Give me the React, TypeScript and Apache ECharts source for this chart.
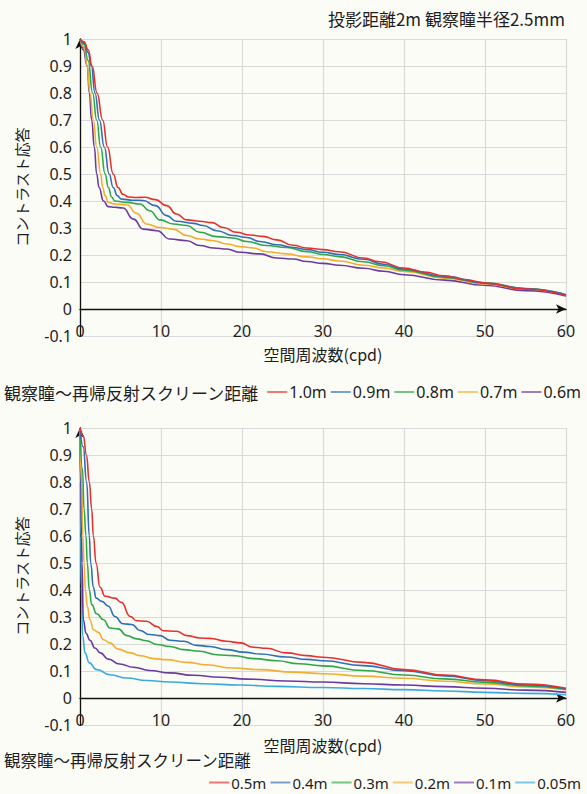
import React, { useEffect, useRef } from "react";
import * as echarts from "echarts";

// ---- Top chart data (投影距離2m 観察瞳半径2.5mm) ----
const topNames = ["1.0m", "0.9m", "0.8m", "0.7m", "0.6m"];
const topColors = ["#e5302e", "#2f6fb5", "#2ea64a", "#f2ae30", "#6b3aa0"];

const t10X = [0, 0.5, 1, 1.5, 2.1, 2.8, 3.4, 4.1, 4.7, 5.3, 6, 7, 8, 9.3, 10.7, 11.9, 13.2, 14.8, 16.3, 17.7, 19.3, 21, 22.6, 24.3, 26.3, 28, 30, 32, 35, 37, 40, 42.5, 45, 47.5, 50, 55, 60];
const t10Y = [1, 0.99, 0.96, 0.9, 0.8, 0.7, 0.6, 0.5, 0.45, 0.425, 0.415, 0.413, 0.414, 0.405, 0.383, 0.352, 0.33, 0.325, 0.32, 0.302, 0.284, 0.274, 0.269, 0.256, 0.236, 0.226, 0.22, 0.212, 0.189, 0.175, 0.152, 0.137, 0.123, 0.109, 0.096, 0.074, 0.05];

const t09X = [0, 0.5, 1, 1.4, 1.85, 2.4, 3.0, 3.6, 4.1, 4.6, 5.1, 6.5, 7.8, 9.3, 10.7, 11.9, 14, 15.2, 16.9, 18.9, 20.6, 22.2, 24.3, 26.3, 28, 30, 32, 35, 37.5, 40, 45, 50, 55, 60];
const t09Y = [1, 0.985, 0.95, 0.9, 0.8, 0.7, 0.6, 0.5, 0.45, 0.42, 0.407, 0.403, 0.402, 0.383, 0.346, 0.325, 0.317, 0.309, 0.29, 0.272, 0.265, 0.25, 0.238, 0.228, 0.22, 0.21, 0.202, 0.184, 0.166, 0.148, 0.121, 0.096, 0.075, 0.052];

const t08X = [0, 0.5, 1, 1.56, 2.06, 2.55, 3.1, 3.5, 3.9, 4.3, 5.8, 7.4, 8.6, 9.9, 11.5, 13.2, 14.8, 16.9, 18.9, 20.6, 23, 25.5, 28, 30, 32, 35, 37.5, 40, 45, 50, 55, 60];
const t08Y = [1, 0.98, 0.92, 0.8, 0.7, 0.6, 0.5, 0.45, 0.415, 0.4, 0.395, 0.389, 0.364, 0.33, 0.315, 0.309, 0.284, 0.268, 0.263, 0.25, 0.235, 0.228, 0.212, 0.202, 0.194, 0.175, 0.16, 0.144, 0.117, 0.097, 0.076, 0.053];

const t07X = [0, 0.5, 0.9, 1.23, 1.65, 2.06, 2.55, 2.8, 3.1, 3.5, 4.3, 5.8, 7, 8.2, 9.9, 11.5, 13.2, 14.8, 16.5, 18.1, 19.8, 21.4, 23, 25.5, 28, 30, 32, 35, 37.5, 40, 45, 50, 55, 60];
const t07Y = [1, 0.97, 0.9, 0.8, 0.7, 0.6, 0.5, 0.45, 0.42, 0.395, 0.389, 0.386, 0.354, 0.315, 0.302, 0.296, 0.272, 0.259, 0.253, 0.241, 0.231, 0.226, 0.212, 0.204, 0.193, 0.186, 0.178, 0.162, 0.152, 0.139, 0.114, 0.093, 0.073, 0.052];

const t06X = [0, 0.4, 0.9, 1.15, 1.44, 1.77, 2.06, 2.35, 2.9, 3.5, 4.3, 5.3, 6.6, 7.8, 9.5, 11.1, 13.2, 14.8, 16.5, 18.1, 19.8, 22.2, 24.3, 26.3, 28, 30, 32, 35, 37.5, 40, 45, 50, 55, 60];
const t06Y = [1, 0.96, 0.9, 0.8, 0.7, 0.6, 0.5, 0.45, 0.4, 0.379, 0.377, 0.374, 0.333, 0.296, 0.29, 0.259, 0.253, 0.235, 0.226, 0.222, 0.21, 0.204, 0.189, 0.185, 0.176, 0.169, 0.162, 0.151, 0.14, 0.127, 0.107, 0.088, 0.068, 0.048];

// ---- Bottom chart data ----
const botNames = ["0.5m", "0.4m", "0.3m", "0.2m", "0.1m", "0.05m"];
const botColors = ["#e5302e", "#2f6fb5", "#2ea64a", "#f2ae30", "#6b3aa0", "#3aa9e0"];

const b05X = [0, 0.4, 0.8, 1.15, 1.44, 1.65, 1.98, 2.47, 3.1, 4.3, 5.1, 6.2, 7, 8.2, 9.5, 10.3, 11.9, 13.2, 14.8, 16, 18.1, 19.8, 21.4, 23, 25.5, 28, 30, 35, 40, 45, 50, 55, 60];
const b05Y = [1, 0.97, 0.9, 0.8, 0.7, 0.6, 0.5, 0.41, 0.377, 0.37, 0.354, 0.302, 0.286, 0.284, 0.265, 0.249, 0.247, 0.231, 0.222, 0.221, 0.21, 0.204, 0.188, 0.184, 0.167, 0.157, 0.151, 0.132, 0.105, 0.085, 0.067, 0.052, 0.036];

const b04X = [0, 0.4, 0.82, 1.15, 1.32, 1.65, 1.98, 2.7, 3.5, 4.3, 5.3, 6.4, 7.4, 8.6, 9.9, 11.1, 12.8, 14.4, 16, 18.1, 20.2, 22.2, 25.5, 28, 30, 35, 40, 45, 50, 55, 60];
const b04Y = [1, 0.93, 0.8, 0.6, 0.5, 0.41, 0.37, 0.358, 0.34, 0.302, 0.275, 0.272, 0.25, 0.235, 0.231, 0.214, 0.21, 0.195, 0.191, 0.179, 0.17, 0.163, 0.152, 0.143, 0.138, 0.12, 0.101, 0.082, 0.064, 0.048, 0.033];

const b03X = [0, 0.3, 0.5, 0.74, 0.9, 1.15, 1.44, 2.06, 2.9, 3.7, 4.7, 5.8, 7, 8.2, 9.5, 11.1, 12.8, 14.8, 16.9, 18.9, 21.4, 24.3, 27, 30, 35, 40, 45, 50, 55, 60];
const b03Y = [1, 0.85, 0.7, 0.6, 0.5, 0.4, 0.346, 0.312, 0.29, 0.259, 0.256, 0.231, 0.219, 0.212, 0.198, 0.191, 0.179, 0.173, 0.16, 0.157, 0.146, 0.138, 0.127, 0.119, 0.102, 0.085, 0.071, 0.058, 0.045, 0.033];

const b02X = [0, 0.2, 0.35, 0.5, 0.66, 0.9, 1.23, 1.65, 2.26, 2.9, 3.7, 4.7, 6.2, 7.4, 9.1, 10.7, 13.2, 15.6, 18.9, 22.2, 26.3, 30, 35, 40, 45, 50, 55, 60];
const b02Y = [1, 0.8, 0.6, 0.5, 0.4, 0.34, 0.29, 0.253, 0.243, 0.216, 0.204, 0.181, 0.167, 0.157, 0.146, 0.142, 0.132, 0.123, 0.111, 0.105, 0.096, 0.09, 0.081, 0.073, 0.062, 0.052, 0.041, 0.031];

const b01X = [0, 0.1, 0.2, 0.25, 0.41, 0.74, 1.23, 1.85, 2.5, 3.5, 4.9, 6.6, 8.6, 11.1, 14, 17.3, 20.6, 25.5, 30, 35, 40, 45, 50, 55, 60];
const b01Y = [1, 0.8, 0.6, 0.5, 0.29, 0.24, 0.214, 0.185, 0.167, 0.144, 0.126, 0.114, 0.102, 0.093, 0.084, 0.077, 0.07, 0.063, 0.059, 0.053, 0.048, 0.042, 0.036, 0.029, 0.021];

const b005X = [0, 0.05, 0.1, 0.16, 0.33, 0.62, 1.15, 2.06, 3.7, 5.8, 8.2, 11.1, 15.2, 19.8, 24.3, 30, 35, 40, 45, 50, 55, 60];
const b005Y = [1, 0.8, 0.6, 0.41, 0.23, 0.167, 0.13, 0.105, 0.086, 0.074, 0.065, 0.059, 0.053, 0.048, 0.043, 0.039, 0.035, 0.031, 0.026, 0.021, 0.017, 0.012];

// ---- Axis ticks / texts ----
const xMin = 0, xMax = 60, xStep = 10;
const yMin = -0.1, yMax = 1, yStep = 0.1;
const titleText = "投影距離2m 観察瞳半径2.5mm";
const xName = "空間周波数(cpd)";
const yName = "コントラスト応答";
const legendTitle = "観察瞳〜再帰反射スクリーン距離";

const topSets = [[t10X, t10Y], [t09X, t09Y], [t08X, t08Y], [t07X, t07Y], [t06X, t06Y]];
const botSets = [[b05X, b05Y], [b04X, b04Y], [b03X, b03Y], [b02X, b02Y], [b01X, b01Y], [b005X, b005Y]];

const BG = "#fcfcf7";
const TXT = "#1e1e1e";
const NUMFONT = "Noto Sans";
const JPFONT = "Noto Sans CJK JP";

function pairs(xs: number[], ys: number[]) {
  return xs.map((x, i) => [x, ys[i]]);
}

export default function App() {
  const ref = useRef<HTMLDivElement>(null);
  useEffect(() => {
    if (!ref.current) return;
    const chart = echarts.init(ref.current, null, { renderer: "svg" });

    const xAxis = (gridIndex: number) => ({
      type: "value",
      gridIndex,
      min: xMin,
      max: xMax,
      interval: xStep,
      axisLine: {
        show: true,
        onZero: true,
        lineStyle: { color: "#111", width: 1.3 },
        symbol: ["none", "arrow"],
        symbolSize: [7, 10],
      },
      axisTick: { show: false },
      axisLabel: { inside: true, margin: -3, fontSize: 16, color: TXT, fontFamily: NUMFONT },
      splitLine: { show: true, lineStyle: { color: "#d9d9d9", width: 1.2 } },
    });
    const yAxis = (gridIndex: number) => ({
      type: "value",
      gridIndex,
      min: yMin,
      max: yMax,
      interval: yStep,
      axisLine: {
        show: true,
        lineStyle: { color: "#111", width: 1.3 },
        symbol: ["none", "arrow"],
        symbolSize: [7, 10],
      },
      axisTick: { show: false },
      axisLabel: {
        margin: 8,
        fontSize: 16,
        color: TXT,
        fontFamily: NUMFONT,
        formatter: (v: number) => String(Math.round(v * 10) / 10),
      },
      splitLine: { show: true, lineStyle: { color: "#d9d9d9", width: 1.2 } },
    });

    const mkSeries = (names: string[], colors: string[], sets: number[][][], idx: number) =>
      names.map((n, i) => ({
        type: "line",
        name: n,
        xAxisIndex: idx,
        yAxisIndex: idx,
        data: pairs(sets[i][0], sets[i][1]),
        showSymbol: false,
        symbol: "none",
        smooth: 0.5,
        smoothMonotone: "x",
        lineStyle: { color: colors[i], width: 1.6 },
        itemStyle: { color: colors[i] },
        z: 10 - i,
      }));

    const legendBase = {
      icon: "rect",
      itemWidth: 20,
      itemHeight: 2,
      itemGap: 4,
      right: 6,
      padding: 0,
      textStyle: { fontSize: 16, lineHeight: 16, color: TXT, fontFamily: NUMFONT, padding: [0, 0, 0, -3] },
      itemStyle: { opacity: 0.65 },
      selectedMode: false,
    };

    const txt = (x: number, y: number, text: string, size: number, align: string, extra: any = {}) => ({
      type: "text",
      x,
      y,
      ...extra,
      style: {
        text,
        fontSize: size,
        fontFamily: JPFONT,
        fill: TXT,
        align,
        verticalAlign: "middle",
      },
    });

    chart.setOption({
      animation: false,
      backgroundColor: BG,
      grid: [
        { left: 80, top: 39, width: 486, height: 297 },
        { left: 80, top: 428, width: 486, height: 297 },
      ],
      xAxis: [xAxis(0), xAxis(1)],
      yAxis: [yAxis(0), yAxis(1)],
      legend: [
        { ...legendBase, data: topNames, top: 384 },
        {
          ...legendBase,
          data: botNames,
          top: 775,
          textStyle: { ...legendBase.textStyle, fontSize: 15, lineHeight: 15 },
        },
      ],
      series: [...mkSeries(topNames, topColors, topSets, 0), ...mkSeries(botNames, botColors, botSets, 1)],
      graphic: [
        txt(565, 18, titleText, 17, "right"),
        txt(323, 354, xName, 16, "center"),
        txt(323, 745, xName, 16, "center"),
        txt(21, 187, yName, 15, "center", { rotation: Math.PI / 2 }),
        txt(21, 576, yName, 15, "center", { rotation: Math.PI / 2 }),
        txt(4, 392, legendTitle, 17, "left"),
        txt(4, 760, legendTitle, 16.5, "left"),
      ],
    });
    return () => chart.dispose();
  }, []);

  return (
    <div
      ref={ref}
      style={{ position: "absolute", left: 0, top: 0, width: 587, height: 794, background: BG }}
    />
  );
}
